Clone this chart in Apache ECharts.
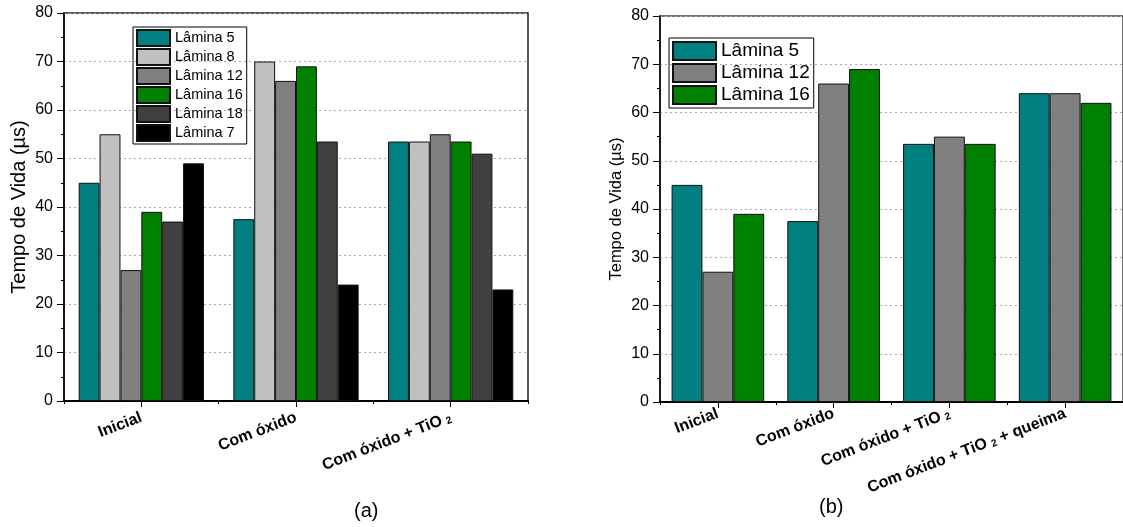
<!DOCTYPE html>
<html>
<head>
<meta charset="utf-8">
<script src="https://cdn.jsdelivr.net/npm/echarts@6/dist/echarts.min.js"></script>
<style>
html,body{margin:0;padding:0;background:#fff;}
#c{width:1123px;height:527px;}
</style>
</head>
<body>
<div id="c"></div>
<script>
// ---- data ----
const catsA = ['Inicial', 'Com óxido', 'Com óxido + TiO{sub|2}'];
const catsB = ['Inicial', 'Com óxido', 'Com óxido + TiO{sub|2}', 'Com óxido + TiO{sub|2} + queima'];
const seriesNamesA = ['Lâmina 5', 'Lâmina 8', 'Lâmina 12', 'Lâmina 16', 'Lâmina 18', 'Lâmina 7'];
const lamina5A = [45, 37.5, 53.5];
const lamina8A = [55, 70, 53.5];
const lamina12A = [27, 66, 55];
const lamina16A = [39, 69, 53.5];
const lamina18A = [37, 53.5, 51];
const lamina7A = [49, 24, 23];
const seriesNamesB = ['Lâmina 5', 'Lâmina 12', 'Lâmina 16'];
const lamina5B = [45, 37.5, 53.5, 64];
const lamina12B = [27, 66, 55, 64];
const lamina16B = [39, 69, 53.5, 62];
const yTicks = [0, 10, 20, 30, 40, 50, 60, 70, 80];
const yTitle = 'Tempo de Vida (µs)';

// ---- style ----
const FONT = 'Liberation Sans, Arial, sans-serif';
const colorsA = ['#008080', '#C0C0C0', '#808080', '#008000', '#404040', '#000000'];
const colorsB = ['#008080', '#808080', '#008000'];
const dataA = [lamina5A, lamina8A, lamina12A, lamina16A, lamina18A, lamina7A];
const dataB = [lamina5B, lamina12B, lamina16B];

function yAxis(grid, fontSize, nameSize, nameGap) {
  return {
    type: 'value', gridIndex: grid, min: yTicks[0], max: yTicks[yTicks.length - 1], interval: 10,
    name: yTitle, nameLocation: 'middle', nameGap: nameGap,
    nameTextStyle: { fontFamily: FONT, fontSize: nameSize, color: '#000' },
    axisLine: { show: true, lineStyle: { color: '#000', width: 1.5 } },
    axisTick: { show: true, length: 7, lineStyle: { color: '#000' } },
    minorTick: { show: true, splitNumber: 2, length: 3, lineStyle: { color: '#000' } },
    axisLabel: { fontFamily: FONT, fontSize: fontSize, color: '#000', margin: 11 },
    splitLine: { show: true, lineStyle: { color: '#aaa', type: [2, 3], width: 1 } }
  };
}
function xCat(grid, cats, margin) {
  return {
    type: 'category', gridIndex: grid, data: cats,
    axisLine: { show: true, onZero: false, lineStyle: { color: '#000', width: 2 } },
    axisTick: { show: true, alignWithLabel: true, length: 6, lineStyle: { color: '#000' } },
    axisLabel: {
      rotate: 21, margin: margin, interval: 0, fontFamily: FONT, fontSize: 16, fontWeight: 'bold', color: '#000',
      rich: { sub: { fontSize: 10, fontWeight: 'bold', fontFamily: FONT, color: '#000', verticalAlign: 'bottom', padding: [0, 0, 0, 4] } }
    },
    splitLine: { show: false }
  };
}
function xMinor(grid, n) {
  return {
    type: 'value', gridIndex: grid, min: 0, max: n, interval: 1, position: 'bottom',
    axisLine: { show: false }, axisLabel: { show: false }, splitLine: { show: false },
    axisTick: { show: true, length: 3, lineStyle: { color: '#000' } }
  };
}

const series = [];
seriesNamesA.forEach((nm, i) => series.push({
  name: nm, type: 'bar', xAxisIndex: 0, yAxisIndex: 0, data: dataA[i],
  barGap: '0%', barCategoryGap: '19%',
  itemStyle: { color: colorsA[i], borderColor: '#111', borderWidth: 1 }
}));
seriesNamesB.forEach((nm, i) => series.push({
  name: nm + ' ', type: 'bar', xAxisIndex: 2, yAxisIndex: 1, data: dataB[i],
  barGap: '0%', barCategoryGap: '20%',
  itemStyle: { color: colorsB[i], borderColor: '#111', borderWidth: 1 }
}));

const chart = echarts.init(document.getElementById('c'), null, { renderer: 'canvas' });
chart.setOption({
  animation: false,
  backgroundColor: '#fff',
  grid: [
    { left: 64, top: 13, width: 464, height: 388, show: true, borderColor: '#222', borderWidth: 1.5, backgroundColor: 'transparent' },
    { left: 660, top: 16, width: 468, height: 386, show: true, borderColor: '#444', borderWidth: 1.5, backgroundColor: 'transparent' }
  ],
  legend: [
    {
      data: seriesNamesA, orient: 'vertical', left: 133, top: 27,
      itemWidth: 33, itemHeight: 16, itemGap: 1, icon: 'rect',
      borderColor: '#000', borderWidth: 1, padding: [2, 4, 2, 3],
      textStyle: { fontFamily: FONT, fontSize: 14.5, color: '#000', lineHeight: 14 }
    },
    {
      data: seriesNamesB.map(s => s + ' '), orient: 'vertical', left: 669, top: 38,
      itemWidth: 43, itemHeight: 18, itemGap: 2, icon: 'rect',
      borderColor: '#000', borderWidth: 1, padding: [3, 4, 3, 3],
      formatter: n => n.trim(),
      textStyle: { fontFamily: FONT, fontSize: 19, color: '#000', lineHeight: 18 }
    }
  ],
  xAxis: [xCat(0, catsA, 16), xMinor(0, catsA.length), xCat(1, catsB, 11), xMinor(1, catsB.length)],
  yAxis: [yAxis(0, 16, 20, 35), yAxis(1, 16, 16.5, 35)],
  series: series,
  graphic: [
    { type: 'text', left: 354, top: 501, style: { text: '(a)', fontFamily: FONT, fontSize: 20, fill: '#000' } },
    { type: 'text', left: 819, top: 497, style: { text: '(b)', fontFamily: FONT, fontSize: 20, fill: '#000' } }
  ]
});
</script>
</body>
</html>
